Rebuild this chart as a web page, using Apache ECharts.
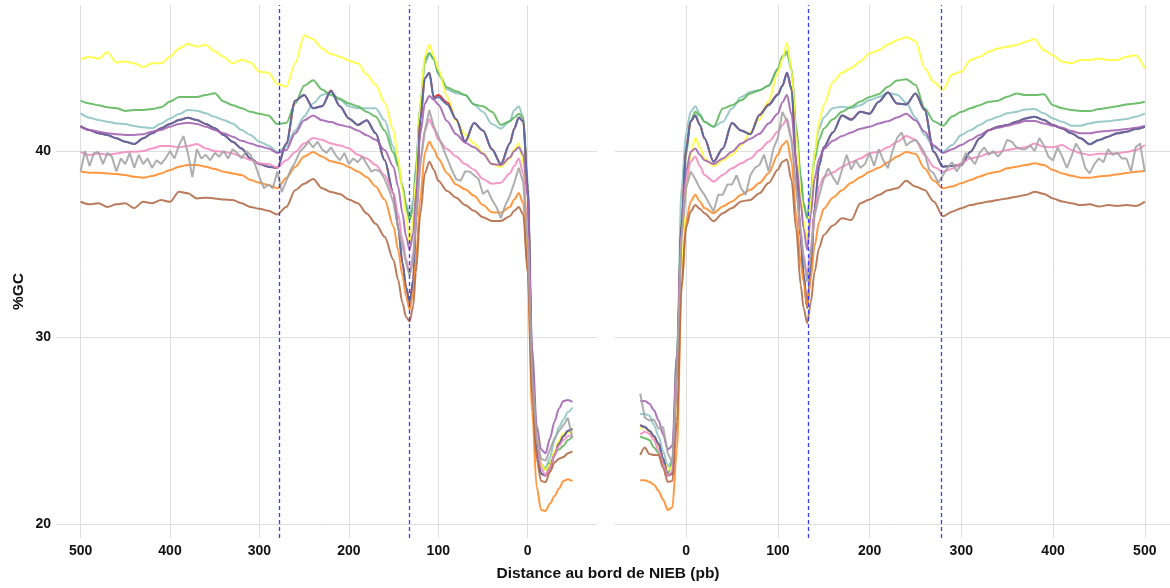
<!DOCTYPE html>
<html>
<head>
<meta charset="utf-8">
<script src="https://cdn.jsdelivr.net/npm/echarts@6/dist/echarts.min.js"></script>
<style>
  html, body { margin: 0; padding: 0; background: #ffffff; }
  #chart { width: 1170px; height: 588px; }
</style>
</head>
<body>
<div id="chart"></div>
<script>
// Distance (bp) from the NIEB edge at which the profiles are sampled.
const dist = [-50,-45,-40,-35,-30,-25,-20,-15,-10,-5,
  0,5,10,15,20,
  30,40,50,60,70,80,90,100,
  105,110,115,120,125,128,132,136,140,145,150,
  160,170,180,190,200,210,220,230,240,250,
  260,270,280,290,300,310,320,330,340,350,
  360,370,380,390,400,410,420,430,440,450,
  460,470,480,490,500];

// The grey profile is sampled on a finer grid.
const greyDist = [-50,-45,-40,-35,-30,-25,-20,-15,-10,-5,
  0,5,10,15,20,25,30,35,40,45,
  50,55,60,65,70,75,80,85,90,95,
  100,105,110,115,120,125,128,132,136,
  140,145,150,155,160,165,170,175,180,185,
  190,195,200,205,210,215,220,225,230,235,
  240,245,250,255,260,265,270,275,280,285,
  290,295,300,305,310,315,320,325,330,335,
  340,345,350,355,360,365,370,375,380,385,
  390,395,400,405,410,415,420,425,430,435,
  440,445,450,455,460,465,470,475,480,485,
  490,495,500];

const xTicks = [0, 100, 200, 300, 400, 500];
const yTicks = [20, 30, 40];
const boundaries = [133, 278];   // dashed reference positions (bp)

// ---- left side (upstream edge), %GC ----
const yellowL = [24.95,24.9,24.85,24.5,23.9,23.2,22.9,23.2,24.8,27.5,
  34.5,39.4,40.4,40.1,39.6,
  39.15,39.3,39.9,40.4,40.9,41.6,42.9,44.4,
  45.1,45.7,45.1,42.5,38.5,36.5,35.05,36.5,37.9,39.6,41.1,
  42.6,43.55,44.1,44.7,44.85,45.05,45.2,45.5,46.0,46.2,
  44.7,43.45,43.6,44.2,44.25,44.75,44.9,44.7,45.05,45.35,
  45.7,45.6,45.75,45.5,45.05,44.7,44.7,44.5,44.7,44.8,
  44.75,45.3,44.95,45.05,44.9];
const greenL = [24.7,24.5,24.2,24.0,23.8,23.3,22.9,23.2,24.7,28.5,
  38.0,41.8,42.0,41.8,41.6,
  41.4,42.1,42.4,42.5,43.0,43.2,43.4,44.2,
  44.9,45.25,44.9,42.55,39.0,37.0,36.3,37.0,38.1,39.2,39.9,
  41.1,41.85,42.1,42.4,42.55,42.8,43.0,43.3,43.8,43.5,
  42.55,41.5,41.45,41.9,42.0,42.1,42.3,42.45,42.65,43.1,
  43.0,42.9,42.9,42.9,42.65,42.35,42.25,42.2,42.2,42.15,
  42.3,42.35,42.45,42.55,42.7];
const tealL = [26.25,26.0,25.6,25.2,24.5,23.6,23.0,23.2,24.8,29.0,
  38.5,41.8,42.4,42.2,41.6,
  41.2,41.45,42.1,42.5,43.0,43.1,43.3,44.1,
  45.0,45.2,44.7,42.4,39.2,37.4,36.5,37.2,38.1,39.3,40.2,
  41.65,42.3,42.3,42.3,42.4,42.75,43.15,43.0,42.55,41.85,
  41.1,40.25,39.95,40.3,40.5,40.86,41.13,41.48,41.66,41.84,
  42.02,42.16,42.2,41.98,41.75,41.48,41.22,41.27,41.34,41.45,
  41.48,41.57,41.66,41.79,42.02];
const redL = [25.1,25.0,24.7,24.3,23.7,23.0,22.6,22.7,24.0,28.0,
  38.0,41.6,41.8,41.2,40.4,
  39.3,40.1,41.1,41.5,40.5,41.7,42.6,43.0,
  42.9,44.2,43.9,41.7,36.3,33.1,31.85,32.7,34.0,35.95,37.7,
  39.5,40.95,41.65,41.4,41.75,42.4,43.25,42.4,42.3,43.0,
  42.7,40.4,39.1,39.16,39.3,39.6,40.14,40.5,40.86,41.22,
  41.45,41.66,41.79,41.66,41.45,41.22,40.95,40.68,40.38,40.5,
  40.68,40.86,40.95,41.13,41.34];
const navyL = [25.1,25.0,24.7,24.3,23.7,23.0,22.6,22.7,24.0,28.0,
  38.0,41.6,41.8,41.2,40.4,
  39.3,40.1,41.1,41.5,40.5,41.7,42.5,42.9,
  42.8,44.2,43.9,41.7,36.3,33.1,31.85,32.7,34.0,35.95,37.7,
  39.5,40.95,41.65,41.4,41.75,42.4,43.2,42.4,42.3,43.0,
  42.7,40.4,39.1,39.16,39.3,39.6,40.14,40.5,40.86,41.22,
  41.45,41.66,41.79,41.66,41.45,41.22,40.95,40.68,40.38,40.5,
  40.68,40.86,40.95,41.13,41.34];
const purpleL = [26.55,26.65,26.6,26.2,25.5,24.6,23.8,24.0,25.3,29.5,
  37.5,39.8,40.2,40.0,39.65,
  39.25,39.3,39.85,40.2,40.45,40.9,41.6,42.5,
  42.75,42.95,42.55,40.95,37.7,35.6,34.7,35.4,36.65,38.1,39.15,
  40.05,40.6,40.85,41.1,41.3,41.4,41.55,41.65,41.9,41.65,
  40.95,40.05,39.9,40.14,40.25,40.41,40.55,40.77,40.95,41.13,
  41.3,41.45,41.52,41.45,41.3,41.13,41.04,40.9,40.86,40.86,
  40.9,40.95,41.04,41.13,41.3];
const pinkL = [24.8,24.7,24.5,24.2,23.7,23.0,22.6,23.0,24.5,28.0,
  35.5,38.8,39.6,39.2,38.8,
  38.3,38.25,38.5,39.0,39.3,39.7,40.1,40.6,
  41.2,41.7,41.1,39.5,36.3,34.5,33.45,34.2,35.25,36.65,37.7,
  38.7,39.25,39.6,39.8,40.15,40.3,40.4,40.6,40.7,40.4,
  39.95,39.5,39.1,39.3,39.34,39.52,39.7,39.87,39.96,40.0,
  40.14,40.38,40.27,40.2,40.27,40.27,40.14,40.0,39.96,39.95,
  39.87,39.8,39.87,39.79,39.96];
const orangeL = [22.3,22.4,22.3,21.9,21.5,21.1,20.7,20.75,22.0,26.0,
  33.5,37.2,37.75,37.4,37.0,
  36.7,36.72,37.1,37.6,37.95,38.2,38.8,39.6,
  40.1,40.5,39.9,37.55,34.2,32.4,31.5,32.2,33.3,34.7,35.95,
  37.4,38.1,38.6,38.9,39.15,39.35,39.45,39.7,39.95,39.7,
  39.15,38.55,38.0,38.18,38.3,38.45,38.71,38.8,38.89,39.03,
  39.16,39.25,39.25,39.16,38.98,38.8,38.66,38.57,38.62,38.71,
  38.77,38.8,38.84,38.84,38.9];
const brownL = [23.9,23.8,23.6,23.5,23.3,22.8,22.25,22.3,23.5,27.0,
  33.5,36.6,37.0,36.8,36.5,
  36.25,36.25,36.45,36.8,37.1,37.5,37.85,38.4,
  39.0,39.43,38.8,36.65,33.5,31.7,30.86,31.1,31.85,33.1,34.15,
  35.4,36.1,36.65,37.2,37.4,37.7,37.8,38.0,38.5,38.25,
  37.9,37.0,36.6,36.8,36.9,37.0,37.2,37.37,37.4,37.46,
  37.5,37.46,37.73,37.82,37.28,37.37,37.2,37.28,36.94,37.2,
  37.14,37.0,37.2,37.14,37.28];
const greyL = [24.6,25.7,25.3,25.0,24.6,24.0,23.4,23.5,24.5,28.0,
  35.0,38.3,39.1,38.3,37.6,37.1,36.4,37.0,37.4,37.9,
  37.7,38.5,38.7,38.9,38.9,38.4,38.5,39.0,39.6,40.2,
  40.8,41.3,42.2,41.1,39.3,36.3,34.2,33.3,34.0,
  34.9,35.9,37.2,37.9,38.5,38.9,39.0,38.9,39.3,39.7,
  39.4,39.6,39.3,39.9,39.5,39.8,40.2,39.9,40.1,40.5,
  40.2,40.5,40.2,39.95,39.4,39.0,38.4,37.8,38.9,38.0,
  38.2,38.0,38.6,39.3,39.8,40.0,39.6,39.9,40.1,39.6,
  40.0,39.7,39.9,39.5,39.8,39.6,40.1,38.6,39.9,40.8,
  40.3,39.6,40.0,39.6,39.3,39.5,39.1,39.6,39.3,39.8,
  39.1,39.9,39.3,39.6,38.9,39.7,39.9,39.3,39.95,39.9,
  39.2,40.0,38.9];

// ---- right side (downstream edge), %GC ----
const yellowR = [25.1,25.2,24.93,24.6,24.2,23.5,22.9,23.05,27.3,33.5,
  38.0,39.8,40.7,40.2,39.6,
  39.2,39.5,39.8,40.3,41.0,41.7,42.7,44.2,
  44.95,45.8,44.3,40.9,37.64,36.3,35.3,37.3,39.8,41.6,42.46,
  43.7,44.2,44.45,44.8,45.23,45.4,45.7,45.95,46.1,45.9,
  44.45,43.7,43.3,44.1,44.25,44.88,45.05,45.32,45.5,45.59,
  45.68,45.86,46.0,45.4,45.14,44.79,44.7,44.88,44.88,44.96,
  44.88,44.88,45.05,45.14,44.43];
const greenR = [24.7,24.6,24.5,24.1,23.8,23.2,22.7,23.3,29.1,36.2,
  39.8,41.6,42.1,41.9,41.57,
  41.3,42.28,42.46,42.72,43.08,43.26,43.5,44.4,
  45.1,45.35,44.4,41.3,38.7,37.2,36.4,37.8,39.5,40.6,41.2,
  41.7,42.1,42.38,42.65,42.9,43.05,43.45,43.78,43.85,43.55,
  42.3,41.6,41.35,41.85,42.1,42.29,42.46,42.64,42.7,42.91,
  43.09,43.0,43.0,43.04,42.46,42.29,42.2,42.15,42.14,42.25,
  42.32,42.4,42.5,42.55,42.64];
const tealR = [25.9,25.9,25.8,25.3,24.7,23.9,23.1,23.4,29.0,38.0,
  41.0,42.1,42.4,42.0,41.57,
  41.3,41.57,42.28,42.9,43.17,43.26,43.52,44.4,
  45.03,45.2,44.3,41.0,38.5,37.2,36.4,37.8,39.9,41.2,41.8,
  42.3,42.38,42.29,42.46,42.73,42.9,43.12,43.02,42.6,41.8,
  40.86,40.2,39.96,40.32,40.86,41.12,41.39,41.66,41.84,42.02,
  42.1,42.23,42.25,42.02,41.75,41.57,41.36,41.36,41.48,41.57,
  41.6,41.66,41.72,41.84,42.02];
const redR = [25.3,25.2,25.0,24.7,24.3,23.5,22.6,22.7,28.2,36.0,
  40.14,41.6,41.9,41.4,40.68,
  39.43,40.14,41.5,41.1,40.9,41.95,42.5,43.05,
  43.5,44.2,43.3,39.3,35.3,33.4,31.6,33.7,36.9,39.2,40.2,
  41.0,41.9,41.7,42.1,42.0,42.64,43.14,42.55,42.5,43.09,
  42.2,39.96,39.16,39.2,39.25,39.96,40.68,41.12,41.3,41.39,
  41.57,41.75,41.84,41.66,41.39,41.21,40.95,40.68,40.36,40.59,
  40.77,40.95,41.04,41.18,41.3];
const navyR = [25.3,25.2,25.0,24.7,24.3,23.5,22.6,22.7,28.2,36.0,
  40.14,41.6,41.9,41.4,40.68,
  39.43,40.14,41.5,41.1,40.9,41.92,42.46,43.0,
  43.5,44.2,43.3,39.3,35.3,33.4,31.6,33.7,36.9,39.2,40.2,
  41.0,41.9,41.66,42.1,42.0,42.64,43.14,42.55,42.5,43.09,
  42.2,39.96,39.16,39.2,39.25,39.96,40.68,41.12,41.3,41.39,
  41.57,41.75,41.84,41.66,41.39,41.21,40.95,40.68,40.36,40.59,
  40.77,40.95,41.04,41.18,41.3];
const purpleR = [26.6,26.6,26.45,26.1,25.55,24.8,24.0,24.2,29.0,35.5,
  38.9,39.96,40.14,39.8,39.5,
  39.3,39.6,39.96,40.4,40.66,40.93,41.47,42.0,
  42.62,43.0,41.93,39.4,37.2,35.86,34.7,36.6,38.5,39.6,40.1,
  40.55,40.8,41.0,41.2,41.3,41.48,41.6,41.8,42.0,41.65,
  41.04,40.3,39.9,40.1,40.32,40.59,40.86,41.12,41.25,41.36,
  41.48,41.61,41.61,41.48,41.36,41.25,41.07,40.95,40.95,41.04,
  41.08,41.12,41.18,41.25,41.36];
const pinkR = [24.8,24.95,24.84,24.5,23.95,23.2,22.6,22.8,28.2,35.5,
  38.4,39.43,39.7,39.2,38.72,
  38.36,38.72,39.07,39.34,39.6,40.05,40.5,41.03,
  41.39,41.74,40.7,38.0,35.6,34.43,33.36,34.8,36.7,38.1,38.6,
  38.85,39.15,39.4,39.6,39.88,39.96,40.2,40.5,40.8,40.6,
  39.79,39.15,38.89,39.05,39.34,39.61,39.7,39.88,39.95,40.05,
  40.14,40.2,40.41,40.23,40.2,40.32,40.05,39.88,39.79,39.85,
  39.85,39.88,39.95,40.05,40.32];
const orangeR = [22.35,22.35,22.26,22.1,21.78,21.3,20.75,20.9,24.0,32.5,
  36.2,37.3,37.65,37.3,36.94,
  36.67,37.03,37.3,37.65,37.92,38.28,38.81,39.8,
  40.32,40.55,39.4,36.6,34.0,33.0,31.66,33.2,34.9,36.2,36.9,
  37.5,37.9,38.3,38.6,38.89,39.1,39.4,39.7,39.95,39.85,
  39.07,38.4,38.0,38.1,38.27,38.45,38.63,38.8,38.89,39.07,
  39.16,39.25,39.34,39.25,38.98,38.8,38.68,38.57,38.57,38.63,
  38.68,38.75,38.82,38.89,38.93];
const brownR = [23.7,24.1,23.75,23.7,23.7,23.0,22.26,22.3,25.5,32.7,
  35.9,36.76,37.1,36.9,36.67,
  36.23,36.67,36.94,37.3,37.38,37.74,38.28,39.0,
  39.43,39.55,38.4,35.8,32.8,31.6,30.77,31.9,33.5,34.8,35.5,
  36.0,36.4,36.3,37.2,37.4,37.64,37.9,38.0,38.4,38.1,
  37.91,37.3,36.5,36.75,36.93,37.1,37.2,37.29,37.38,37.46,
  37.55,37.64,37.82,37.7,37.46,37.29,37.2,37.1,37.15,37.02,
  37.1,37.05,37.1,37.05,37.29];
const greyR = [27.0,25.7,25.55,25.6,25.1,25.2,23.8,23.3,28.3,35.3,
  38.0,38.9,38.5,38.0,37.65,37.2,36.76,37.65,37.65,38.2,
  38.2,38.7,38.0,37.65,38.7,39.1,39.25,39.8,38.9,40.1,
  40.7,42.1,41.6,40.5,38.0,35.8,34.3,33.0,34.5,
  36.5,37.6,38.5,39.07,38.6,38.2,39.0,39.8,39.0,39.5,
  39.1,39.3,39.9,39.2,40.1,39.5,39.07,40.0,40.7,41.0,
  40.3,40.5,40.6,40.3,39.9,39.0,38.8,38.3,38.7,39.1,
  39.4,38.9,39.3,39.9,39.6,39.3,39.9,40.2,39.8,40.0,
  39.7,40.0,40.6,40.5,40.2,40.1,40.1,40.3,40.0,40.7,
  40.3,39.7,39.5,40.2,39.7,39.1,39.7,40.4,40.0,39.1,
  38.8,39.3,39.6,39.4,40.1,39.8,39.9,39.6,39.6,38.9,
  40.2,40.4,38.9];

const palette = {
  yellow: '#ffff3a', green: '#5cb65a', teal: '#8cc3c3', red: '#e41a1c',
  navy: '#5571aa', purple: '#a062b0', pink: '#f38ac2', grey: '#a3a3a3',
  orange: '#ff8a26', brown: '#b06a46'
};

const FONT = '"Liberation Sans", Arial, Helvetica, sans-serif';
const GRID_LINE = '#dedede';
const TEXT = '#111111';

// Drawing order, bottom to top; the last flag marks jagged profiles drawn unsmoothed.
const profiles = [
  ['teal',   dist,     tealL,   tealR,   false],
  ['green',  dist,     greenL,  greenR,  false],
  ['yellow', dist,     yellowL, yellowR, false],
  ['red',    dist,     redL,    redR,    false],
  ['navy',   dist,     navyL,   navyR,   false],
  ['purple', dist,     purpleL, purpleR, false],
  ['pink',   dist,     pinkL,   pinkR,   false],
  ['orange', dist,     orangeL, orangeR, false],
  ['brown',  dist,     brownL,  brownR,  false],
  ['grey',   greyDist, greyL,   greyR,   true]
];

function makeXAxis(gridIndex, inverse) {
  return {
    type: 'value', gridIndex: gridIndex, min: -77.5, max: 527.5, inverse: inverse,
    axisLine: { show: false },
    axisTick: { show: false, customValues: xTicks },
    axisLabel: { customValues: xTicks, color: TEXT, fontWeight: 'bold', fontSize: 14,
                 fontFamily: FONT, margin: 6 },
    splitLine: { show: true, lineStyle: { color: GRID_LINE, width: 1 } }
  };
}
function makeYAxis(gridIndex, showLabels) {
  return {
    type: 'value', gridIndex: gridIndex, min: 19.25, max: 47.83,
    axisLine: { show: false },
    axisTick: { show: false, customValues: yTicks },
    axisLabel: { show: showLabels, customValues: yTicks, color: TEXT, fontWeight: 'bold',
                 fontSize: 14, fontFamily: FONT, margin: 5 },
    splitLine: { show: true, lineStyle: { color: GRID_LINE, width: 1 } }
  };
}

const series = [];
[0, 1].forEach(function (panel) {
  profiles.forEach(function (p, k) {
    const xs = p[1];
    const ys = panel === 0 ? p[2] : p[3];
    const s = {
      type: 'line', name: p[0], xAxisIndex: panel, yAxisIndex: panel,
      data: xs.map(function (x, i) { return [x, ys[i]]; }),
      showSymbol: false, symbol: 'none', silent: true, z: 2,
      smooth: p[4] ? false : 0.3, smoothMonotone: 'x',
      lineStyle: { color: palette[p[0]], width: 2, opacity: p[0] === 'navy' ? 0.95 : 0.88 },
      itemStyle: { color: palette[p[0]] },
      emphasis: { disabled: true }
    };
    if (k === profiles.length - 1) {
      s.markLine = {
        silent: true, symbol: 'none', animation: false,
        label: { show: false },
        lineStyle: { type: [4, 3], color: '#3c3cff', width: 1.3, opacity: 1 },
        data: boundaries.map(function (b) { return { xAxis: b }; })
      };
    }
    series.push(s);
  });
});

const chart = echarts.init(document.getElementById('chart'), null, { renderer: 'canvas' });
chart.setOption({
  animation: false,
  backgroundColor: '#ffffff',
  grid: [
    { left: 56, top: 5, width: 541, height: 533 },
    { left: 615, top: 5, width: 560, height: 533 }
  ],
  xAxis: [makeXAxis(0, true), makeXAxis(1, false)],
  yAxis: [makeYAxis(0, true), makeYAxis(1, false)],
  series: series,
  graphic: [
    { type: 'text', x: 608, y: 574, silent: true,
      style: { text: 'Distance au bord de NIEB (pb)', fill: TEXT, fontSize: 15.5,
               fontWeight: 'bold', fontFamily: FONT, align: 'center', verticalAlign: 'middle' } },
    { type: 'text', x: 18.5, y: 291.5, rotation: Math.PI / 2, silent: true,
      style: { text: '%GC', fill: TEXT, fontSize: 15.5, fontWeight: 'bold',
               fontFamily: FONT, align: 'center', verticalAlign: 'middle' } }
  ]
});
</script>
</body>
</html>
